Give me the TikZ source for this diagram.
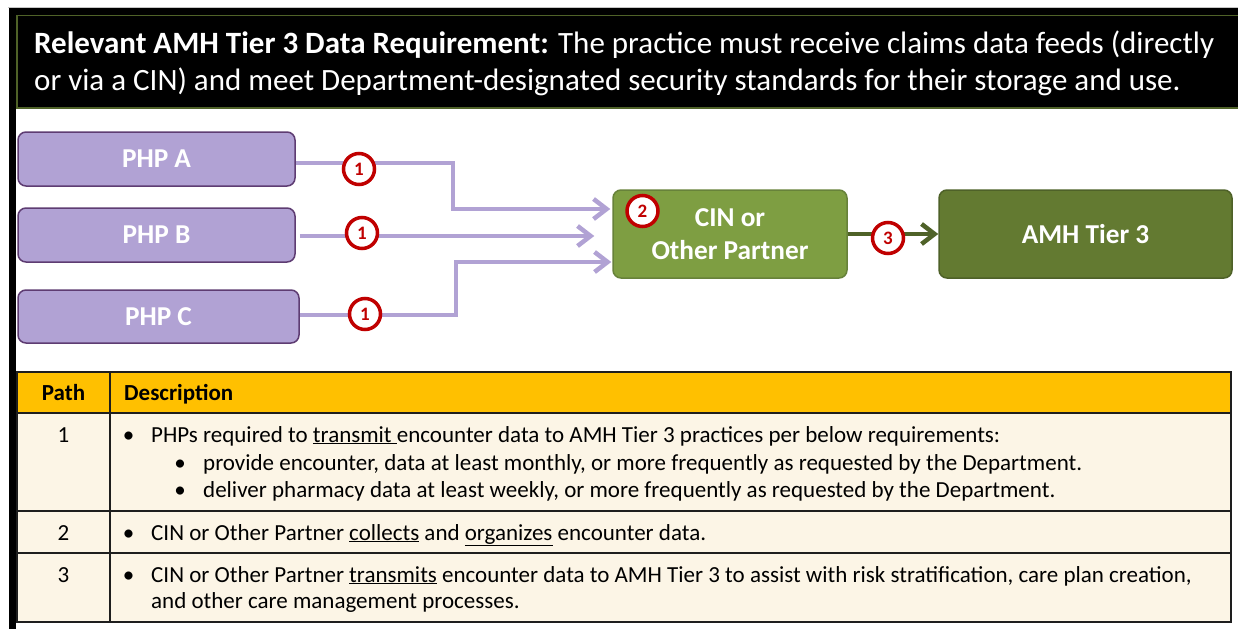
\documentclass[tikz,border=0pt]{standalone}
\usepackage{fontspec}
\setmainfont{Carlito}
\usetikzlibrary{arrows.meta}
\definecolor{lav}{HTML}{B1A2D4}
\definecolor{phpfill}{HTML}{B1A2D4}
\definecolor{phpdraw}{HTML}{5E3C72}
\definecolor{cinfill}{HTML}{7E9E42}
\definecolor{cindraw}{HTML}{67823A}
\definecolor{amhfill}{HTML}{637A31}
\definecolor{amhdraw}{HTML}{4E6128}
\definecolor{olivedark}{HTML}{4F6228}
\definecolor{badgered}{HTML}{C00000}
\definecolor{gold}{HTML}{FFC000}
\definecolor{cream}{HTML}{FCF5E6}
\definecolor{rule}{HTML}{1E1E1E}
\tikzset{
  box/.style={rounded corners=8pt, line width=1.5pt, text=white, inner sep=0pt,
    align=center, font=\fontsize{27.3}{33}\selectfont\bfseries},
  phpbox/.style={box, draw=phpdraw, fill=phpfill},
  badge/.style={circle, draw=badgered, line width=3.5pt, fill=white, minimum size=31pt,
    inner sep=0pt, text=badgered, font=\fontsize{19}{20}\selectfont\bfseries},
  feed/.style={draw=lav, line width=4.5pt, -{Straight Barb[length=13pt,width=20pt]}},
  handoff/.style={draw=olivedark, line width=4.5pt, -{Straight Barb[length=13pt,width=20pt]}},
  headtxt/.style={anchor=base west, inner sep=0pt, text=white, font=\fontsize{31}{38}\selectfont},
  celltxt/.style={anchor=base west, inner sep=0pt, font=\fontsize{23}{28}\selectfont},
  numtxt/.style={anchor=base, inner sep=0pt, font=\fontsize{23}{28}\selectfont},
}
\begin{document}
\begin{tikzpicture}[x=1pt,y=-1pt]
\useasboundingbox (0,0) rectangle (1238,629);
\fill[white] (0,0) rectangle (1238,629);

% frame: thin grey top rule, black top band and left bar
\draw[gray!45, line width=0.8pt] (8,7) -- (1238,7);
\fill[black] (9,8) rectangle (1238,15);
\fill[black] (9,8) rectangle (16,629);

% requirement banner
\draw[olivedark, fill=black, line width=1.5pt] (17,15.5) rectangle (1240,108);
\node[headtxt] (hdr1) at (34,53) {\textbf{Relevant AMH Tier 3 Data Requirement:} The practice must receive claims data feeds (directly};
\node[headtxt] (hdr2) at (34,90) {or via a CIN) and meet Department-designated security standards for their storage and use.};

% data flow boxes
\node[phpbox, minimum width=277pt, minimum height=54pt] (phpA) at (156.5,159) {PHP A};
\node[phpbox, minimum width=277pt, minimum height=54pt] (phpB) at (156.5,235) {PHP B};
\node[phpbox, minimum width=281pt, minimum height=53pt] (phpC) at (158.5,316.5) {PHP C};
\node[box, draw=cindraw, fill=cinfill, minimum width=234pt, minimum height=88pt] (cin) at (730,234) {CIN or\\Other Partner};
\node[box, draw=amhdraw, fill=amhfill, minimum width=293pt, minimum height=88pt] (amh) at (1085.5,234) {AMH Tier 3};

% feeds into the partner
\coordinate (jA) at (453,209);
\coordinate (jC) at (456,262);
\draw[feed] ([yshift=-4pt]phpA.east) -| (jA) -- ([xshift=-2pt,yshift=25pt]cin.west);
\draw[feed] ([xshift=4pt,yshift=-1pt]phpB.east) -- ([xshift=-18pt,yshift=-2pt]cin.west);
\draw[feed] ([yshift=1.5pt]phpC.east) -| (jC) -- ([xshift=-1pt,yshift=-28pt]cin.west);
\draw[handoff] (cin.east) -- (amh.west);

% path markers
\node[badge] (b1a) at (359,169) {1};
\node[badge] (b1b) at (362,233) {1};
\node[badge] (b1c) at (365,314) {1};
\node[badge] (b2) at (642.5,211) {2};
\node[badge] (b3) at (888,238) {3};

% path table
\fill[gold] (17,372) rectangle (1231,413);
\fill[cream] (17,413) rectangle (1231,622);
\draw[rule, line width=1.5pt] (17,372) rectangle (1231,622);
\draw[rule, line width=1.5pt] (17,413) -- (1231,413);
\draw[rule, line width=1.5pt] (17,511) -- (1231,511);
\draw[rule, line width=1.5pt] (17,553) -- (1231,553);
\draw[rule, line width=1.5pt] (110,372) -- (110,622);

\node[numtxt] (thPath) at (63.5,400) {\textbf{Path}};
\node[celltxt] (thDesc) at (124,400) {\textbf{Description}};

\node[numtxt] (n1) at (63.5,442) {1};
\node[numtxt] (r1b) at (128.5,442) {•};
\node[celltxt] (r1a) at (151,442) {PHPs required to \underline{transmit\ }encounter data to AMH Tier 3 practices per below requirements:};
\node[numtxt] (r1c) at (180,470) {•};
\node[celltxt] (r1d) at (203,470) {provide encounter, data at least monthly, or more frequently as requested by the Department.};
\node[numtxt] (r1e) at (180,497) {•};
\node[celltxt] (r1f) at (203,497) {deliver pharmacy data at least weekly, or more frequently as requested by the Department.};

\node[numtxt] (n2) at (63.5,540) {2};
\node[numtxt] (r2b) at (128.5,540) {•};
\node[celltxt] (r2a) at (151,540) {CIN or Other Partner \underline{collects} and \underline{organizes} encounter data.};

\node[numtxt] (n3) at (63.5,582) {3};
\node[numtxt] (r3b) at (128.5,582) {•};
\node[celltxt] (r3a) at (151,582) {CIN or Other Partner \underline{transmits} encounter data to AMH Tier 3 to assist with risk stratification, care plan creation,};
\node[celltxt] (r3c) at (151,608) {and other care management processes.};
\end{tikzpicture}
\end{document}
